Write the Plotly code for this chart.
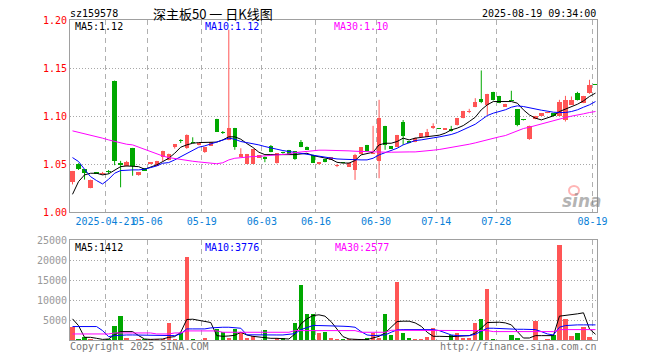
import plotly.graph_objects as go
import pandas as pd

# ---------------- data ----------------
holidays = ["2025-05-01", "2025-05-02", "2025-05-05", "2025-06-02"]
dates = [d.strftime("%Y-%m-%d") for d in pd.bdate_range("2025-04-14", "2025-08-19")
         if d.strftime("%Y-%m-%d") not in holidays]

opens = [1.032, 1.050, 1.045, 1.025, 1.0408, 1.040, 1.0428, 1.137, 1.0507, 1.048,
         1.067, 1.039, 1.046, 1.050, 1.048, 1.058, 1.0545, 1.0677, 1.0745, 1.0667,
         1.0736, 1.0697, 1.0625, 1.0694, 1.0972, 1.0832, 1.075, 1.0878, 1.058, 1.0503,
         1.0503, 1.0566, 1.058, 1.069, 1.0514, 1.0625, 1.0649, 1.0635, 1.0735, 1.0684,
         1.0601, 1.0507, 1.0555, 1.0545, 1.0480, 1.0516, 1.0476, 1.044, 1.0607, 1.0701,
         1.0607, 1.0538, 1.0899, 1.069, 1.0684, 1.0941, 1.0743, 1.0729, 1.0781, 1.0781,
         1.0878, 1.0868, 1.0860, 1.0867, 1.0909, 1.0978, 1.1041, 1.1100, 1.118, 1.1117,
         1.1253, 1.1211, 1.1100, 1.1161, 1.1072, 1.0963, 1.0763, 1.0968, 1.1003, 1.1031,
         1.1031, 1.1003, 1.0955, 1.1117, 1.1246, 1.1135, 1.1239, 1.1328]
highs = [1.043, 1.051, 1.045, 1.034, 1.041, 1.042, 1.044, 1.137, 1.0535, 1.0535,
         1.067, 1.042, 1.046, 1.052, 1.0535, 1.064, 1.061, 1.0708, 1.076, 1.081,
         1.078, 1.0718, 1.0677, 1.0729, 1.0972, 1.0845, 1.19, 1.0878, 1.0666, 1.0607,
         1.0656, 1.0593, 1.058, 1.070, 1.0614, 1.063, 1.0649, 1.0635, 1.0752, 1.0684,
         1.0601, 1.0517, 1.0555, 1.057, 1.050, 1.0516, 1.0514, 1.0608, 1.0677, 1.0701,
         1.0899, 1.117, 1.0899, 1.069, 1.0805, 1.096, 1.0743, 1.0778, 1.0822, 1.0867,
         1.0926, 1.0868, 1.0862, 1.0899, 1.0982, 1.1055, 1.1076, 1.1187, 1.1475, 1.1232,
         1.1253, 1.1211, 1.1128, 1.1264, 1.1072, 1.0963, 1.0902, 1.1003, 1.1031, 1.1048,
         1.1031, 1.1170, 1.1211, 1.1205, 1.1253, 1.1211, 1.1378, 1.1328]
lows = [1.029, 1.044, 1.034, 1.025, 1.040, 1.039, 1.040, 1.049, 1.026, 1.0476,
        1.038, 1.038, 1.043, 1.050, 1.048, 1.0525, 1.054, 1.0663, 1.072, 1.066,
        1.0719, 1.0697, 1.0618, 1.069, 1.084, 1.0815, 1.075, 1.065, 1.058, 1.0503,
        1.0503, 1.0566, 1.0521, 1.0625, 1.0507, 1.061, 1.0607, 1.0545, 1.0677, 1.0652,
        1.0514, 1.0497, 1.052, 1.0545, 1.0470, 1.0512, 1.0476, 1.0337, 1.0607, 1.0642,
        1.0607, 1.0354, 1.065, 1.0663, 1.0684, 1.0701, 1.0719, 1.0729, 1.0781, 1.0781,
        1.0867, 1.0866, 1.0860, 1.0840, 1.0902, 1.0978, 1.1031, 1.1093, 1.1135, 1.1013,
        1.1163, 1.1135, 1.1100, 1.1158, 1.0895, 1.0955, 1.0753, 1.0968, 1.1003, 1.1031,
        1.1003, 1.1003, 1.0944, 1.1117, 1.1163, 1.1135, 1.1232, 1.1326]
closes = [1.043, 1.045, 1.041, 1.034, 1.0403, 1.0408, 1.0422, 1.053, 1.0497, 1.052,
          1.048, 1.042, 1.043, 1.052, 1.0535, 1.064, 1.061, 1.0708, 1.074, 1.080,
          1.0719, 1.0718, 1.0677, 1.0729, 1.084, 1.0828, 1.0878, 1.0677, 1.0607, 1.0607,
          1.0656, 1.0593, 1.0559, 1.0625, 1.0614, 1.0618, 1.0607, 1.0556, 1.0677, 1.0652,
          1.0514, 1.0514, 1.052, 1.057, 1.0486, 1.0512, 1.0514, 1.0594, 1.0677, 1.0642,
          1.0618, 1.0982, 1.0701, 1.0663, 1.0805, 1.0795, 1.0719, 1.0778, 1.0822, 1.0840,
          1.0899, 1.0866, 1.0862, 1.0847, 1.0982, 1.1055, 1.1058, 1.1149, 1.1149, 1.1232,
          1.1163, 1.1135, 1.1128, 1.1158, 1.0909, 1.0960, 1.0902, 1.1003, 1.1031, 1.1048,
          1.1003, 1.1152, 1.1163, 1.1173, 1.117, 1.1211, 1.1326, 1.1326]
volumes = [3190, 200, 670, 150, 100, 100, 150, 3600, 6120, 420,
           100, 150, 150, 150, 200, 150, 4195, 170, 1760, 20720,
           340, 100, 590, 100, 2850, 2100, 590, 2770, 1930, 590,
           1090, 80, 2600, 80, 420, 590, 80, 4360, 13680, 6380,
           6380, 1680, 2100, 590, 170, 170, 170, 170, 170, 420,
           1760, 590, 6380, 1260, 14500, 1680, 420, 250, 170, 840,
           3100, 80, 80, 1260, 1760, 590, 590, 4360, 5370, 12750,
           340, 80, 80, 1340, 590, 80, 80, 4870, 80, 340,
           1340, 23740, 5370, 1090, 1850, 3360, 840, 80]

ma5 = [1.0187, 1.0319, 1.0389, 1.0406, 1.0406, 1.0389, 1.0400, 1.0434, 1.0475, 1.0482,
       1.0482, 1.0475, 1.0448, 1.0468, 1.0493, 1.0527, 1.0562, 1.0614, 1.0677, 1.0701,
       1.0718, 1.0725, 1.0725, 1.0725, 1.0730, 1.0753, 1.0785, 1.0785, 1.0760, 1.0715,
       1.0675, 1.0625, 1.0600, 1.0600, 1.0600, 1.0597, 1.0597, 1.0600, 1.0607, 1.0614,
       1.0590, 1.0575, 1.0562, 1.0552, 1.0520, 1.0512, 1.0512, 1.0538, 1.0597, 1.0614,
       1.0625, 1.0701, 1.0718, 1.0718, 1.0736, 1.0771, 1.0753, 1.0771, 1.0778, 1.0781,
       1.0788, 1.0802, 1.0823, 1.0857, 1.0875, 1.0902, 1.0944, 1.0989, 1.1066, 1.1118,
       1.1152, 1.1152, 1.1152, 1.1152, 1.1135, 1.1066, 1.1013, 1.0979, 1.0961, 1.0979,
       1.1003, 1.1048, 1.1073, 1.1100, 1.1124, 1.1159, 1.1205, 1.1240]
ma10 = [1.0569, 1.0528, 1.0448, 1.0371, 1.0330, 1.0295, 1.0343, 1.0406, 1.0434, 1.0441,
        1.0441, 1.0441, 1.0448, 1.0465, 1.0482, 1.0510, 1.0517, 1.0545, 1.0580, 1.0614,
        1.0649, 1.0677, 1.0691, 1.0711, 1.0725, 1.0753, 1.0771, 1.0760, 1.0736, 1.0725,
        1.0715, 1.0701, 1.0684, 1.0666, 1.0656, 1.0642, 1.0632, 1.0621, 1.0607, 1.0597,
        1.0590, 1.0580, 1.0569, 1.0562, 1.0555, 1.0552, 1.0548, 1.0545, 1.0545, 1.0545,
        1.0562, 1.0597, 1.0621, 1.0642, 1.0666, 1.0701, 1.0725, 1.0746, 1.0753, 1.0760,
        1.0774, 1.0784, 1.0795, 1.0809, 1.0830, 1.0857, 1.0885, 1.0916, 1.0961, 1.1006,
        1.1031, 1.1048, 1.1066, 1.1093, 1.1107, 1.1100, 1.1086, 1.1073, 1.1062, 1.1052,
        1.1041, 1.1038, 1.1038, 1.1048, 1.1066, 1.1093, 1.1118, 1.1152]
ma30 = [1.0847, 1.0833, 1.0819, 1.0802, 1.0788, 1.0771, 1.0753, 1.0736, 1.0718, 1.0708,
        1.0701, 1.0677, 1.0656, 1.0632, 1.0607, 1.0586, 1.0569, 1.0559, 1.0545, 1.0538,
        1.0531, 1.0524, 1.0517, 1.0510, 1.0505, 1.0515, 1.0545, 1.0562, 1.0570, 1.0577,
        1.0580, 1.0582, 1.0587, 1.0590, 1.0593, 1.0597, 1.0607, 1.0621, 1.0628, 1.0635,
        1.0642, 1.0646, 1.0646, 1.0646, 1.0642, 1.0642, 1.0639, 1.0635, 1.0632, 1.0628,
        1.0625, 1.0625, 1.0625, 1.0625, 1.0628, 1.0628, 1.0628, 1.0628, 1.0632, 1.0639,
        1.0646, 1.0653, 1.0663, 1.0673, 1.0684, 1.0698, 1.0708, 1.0722, 1.0739, 1.0753,
        1.0767, 1.0785, 1.0798, 1.0822, 1.0850, 1.0871, 1.0885, 1.0902, 1.0923, 1.0941,
        1.0958, 1.0972, 1.0986, 1.1000, 1.1010, 1.1024, 1.1038, 1.1048]

vma5 = [5290, 3600, 670, 670, 420, 150, 250, 1340, 2100, 2100,
        2100, 1090, 250, 150, 150, 250, 670, 840, 1930, 5120,
        5200, 4870, 4700, 4370, 1100, 920, 1010, 1170, 1930, 1260,
        920, 760, 500, 420, 420, 340, 250, 1510, 4030, 5290,
        6120, 6290, 5960, 4610, 2770, 840, 250, 100, 100, 100,
        420, 920, 1760, 3190, 4610, 4700, 4700, 4280, 3440, 1930,
        920, 920, 840, 840, 920, 1090, 1090, 1760, 2940, 4360,
        4450, 4450, 4280, 3780, 2100, 500, 500, 1090, 1090, 1090,
        1090, 5960, 6120, 6290, 6540, 6800, 2770, 1430]
vma10 = [3360, 3360, 3360, 3360, 3360, 2350, 840, 1090, 1260, 1260,
         1260, 1260, 1260, 1090, 1090, 1090, 1090, 1090, 1510, 2770,
         2770, 2770, 2770, 3020, 3190, 3190, 3190, 3100, 2940, 1300,
         1260, 1260, 1260, 1260, 1260, 1260, 1340, 1590, 2600, 3190,
         3610, 3610, 3610, 3520, 3440, 3440, 3360, 3190, 2100, 1260,
         1090, 1090, 1260, 1930, 2520, 2600, 2600, 2600, 2600, 2600,
         2600, 2350, 1760, 1260, 1090, 1090, 1090, 1430, 2100, 2940,
         2940, 2850, 2770, 2770, 2680, 2680, 2600, 2600, 2100, 1510,
         1260, 3190, 3610, 3780, 3780, 3780, 3780, 3780]
vma30 = [1510, 1510, 1510, 1510, 1510, 1510, 1510, 1760, 1760, 1760,
         1760, 1760, 1760, 1760, 1510, 1510, 1510, 1760, 1760, 2270,
         2270, 2270, 2270, 2270, 2270, 1930, 1930, 1930, 1930, 1930,
         1930, 1930, 1930, 1930, 1930, 1930, 1930, 2350, 2350, 2350,
         2350, 2350, 2350, 2350, 2350, 2350, 2350, 2350, 1930, 1930,
         1930, 1930, 1930, 2430, 2430, 2430, 2430, 2430, 2350, 2350,
         2350, 2350, 2350, 2350, 2350, 2350, 2350, 2350, 2350, 2350,
         2100, 2100, 2100, 2100, 2100, 2100, 2100, 2100, 2100, 2100,
         2100, 2600, 2600, 2600, 2600, 2600, 2600, 2600]

tick_dates = ["2025-04-22", "2025-05-06", "2025-05-19", "2025-06-03", "2025-06-16",
              "2025-06-30", "2025-07-14", "2025-07-28", "2025-08-19"]
tick_text = ["2025-04-21", "05-06", "05-19", "06-03", "06-16",
             "06-30", "07-14", "07-28", "08-19"]
price_ticks = [1.00, 1.05, 1.10, 1.15, 1.20]
vol_ticks = [5000, 10000, 15000, 20000, 25000]

code = "sz159578"
title = "深主板50 一 日K线图"
stamp = "2025-08-19 09:34:00"
ma_labels = ["MA5:1.12", "MA10:1.12", "MA30:1.10"]
vma_labels = ["MA5:1412", "MA10:3776", "MA30:2577"]

# ---------------- styling ----------------
RED = "#FF5555"
GREEN = "#00A800"
MA_COLORS = ["#000000", "#0000FF", "#FF00FF"]
MONO = "DejaVu Sans Mono"
GRID = "#B0B0B0"
BORDER = "#A0A0A0"
L, R, T, B = 70, 597, 20, 340   # plot area in pixels

idx = list(range(len(dates)))
up = [c >= o for o, c in zip(opens, closes)]

fig = go.Figure()

for is_up, col in [(True, RED), (False, GREEN)]:
    xs = [i for i in idx if up[i] == is_up]
    base = [min(opens[i], closes[i]) for i in xs]
    hgt = [max(abs(closes[i] - opens[i]), 0.0012) for i in xs]
    wx, wy = [], []
    for i in xs:
        wx += [i, i, None]
        wy += [lows[i], highs[i], None]
    fig.add_trace(go.Scatter(x=wx, y=wy, mode="lines", line=dict(color=col, width=1),
                             xaxis="x", yaxis="y", hoverinfo="skip"))
    fig.add_trace(go.Bar(x=xs, y=hgt, base=base, width=0.72, marker=dict(color=col, line=dict(width=0)),
                         xaxis="x", yaxis="y"))

for series, col in zip([ma5, ma10, ma30], MA_COLORS):
    fig.add_trace(go.Scatter(x=idx, y=series, mode="lines", line=dict(color=col, width=1),
                             xaxis="x", yaxis="y"))

fig.add_trace(go.Bar(x=idx, y=volumes, width=0.72,
                     marker=dict(color=[RED if u else GREEN for u in up], line=dict(width=0)),
                     xaxis="x2", yaxis="y2"))
for series, col in zip([vma5, vma10, vma30], MA_COLORS):
    fig.add_trace(go.Scatter(x=idx, y=series, mode="lines", line=dict(color=col, width=1),
                             xaxis="x2", yaxis="y2"))

xr = [-(72.5 - L) / 6.0, 87 + (R - 595.5) / 6.0]
tickpos = [dates.index(d) - 0.5 for d in tick_dates]

common_x = dict(range=xr, tickmode="array", tickvals=tickpos, showgrid=True, gridcolor=GRID,
                griddash="5px,4px", gridwidth=1, showline=True, linecolor=BORDER, linewidth=1,
                mirror=True, ticks="", zeroline=False, fixedrange=True, automargin=False,
                tickangle=0)
common_y = dict(tickmode="array", showgrid=True, gridcolor="#A8A8A8", griddash="1px,2px",
                showline=True, linecolor=BORDER, linewidth=1, mirror=True, ticks="",
                zeroline=False, fixedrange=True, automargin=False)
H = B - T
main_bottom = (B - 212.3) / H
vol_top = (B - 240) / H

fig.update_layout(
    width=660, height=360, autosize=False,
    margin=dict(l=L, r=660 - R, t=T, b=360 - B, autoexpand=False),
    paper_bgcolor="white", plot_bgcolor="white",
    showlegend=False, barmode="overlay", bargap=0,
    xaxis=dict(**common_x, domain=[0, 1], anchor="y", ticktext=tick_text,
               tickfont=dict(family=MONO, size=10, color="#0A7FD8")),
    yaxis=dict(**common_y, domain=[main_bottom, 1], range=[1.0, 1.2], tickvals=price_ticks,
               ticktext=[f"{v:.2f}" for v in price_ticks],
               tickfont=dict(family=MONO, size=10, color="#FF0000")),
    xaxis2=dict(**common_x, domain=[0, 1], anchor="y2", showticklabels=False),
    yaxis2=dict(**common_y, domain=[0, vol_top], range=[0, 25000], tickvals=vol_ticks,
                ticktext=[str(v) for v in vol_ticks],
                tickfont=dict(family=MONO, size=10, color="#999999")),
)


def px(x):
    return (x - L) / (R - L)


def py(y):
    return (B - y) / H


def note(text, x, y, color="#000000", xanchor="left", size=10, family=MONO, **kw):
    fig.add_annotation(text=text, x=px(x), y=py(y), xref="paper", yref="paper", showarrow=False,
                       xanchor=xanchor, yanchor="middle", borderpad=0,
                       font=dict(family=family, size=size, color=color), **kw)


note(code, 69, 13.5)
note(title, 213, 13.5, xanchor="center", size=13, family="Noto Sans CJK SC")
note(stamp, 597, 13.5, xanchor="right")
for lab, x, col in zip(ma_labels, [74, 204, 333], MA_COLORS):
    note(lab, x, 27, color=col)
for lab, x, col in zip(vma_labels, [74, 204, 334], MA_COLORS):
    note(lab, x, 247, color=col)
note("Copyright 2025 SINA.COM", 69, 346, color="#777777")
note("http://finance.sina.com.cn", 598, 346, color="#777777", xanchor="right")

# sina watermark
fig.add_shape(type="circle", xref="paper", yref="paper", x0=px(569), x1=px(579), y0=py(195), y1=py(186),
              line=dict(color="rgba(255,120,120,0.55)", width=2))
note("sina", 582, 201, color="rgba(130,130,130,0.6)", xanchor="center", size=17,
     family="DejaVu Sans")
fig.layout.annotations[-1].font.update(weight="bold", style="italic")

fig.write_html("out.html", config={"displayModeBar": False, "staticPlot": True},
               post_script="document.body.style.margin='0';document.body.style.overflow='hidden';")
